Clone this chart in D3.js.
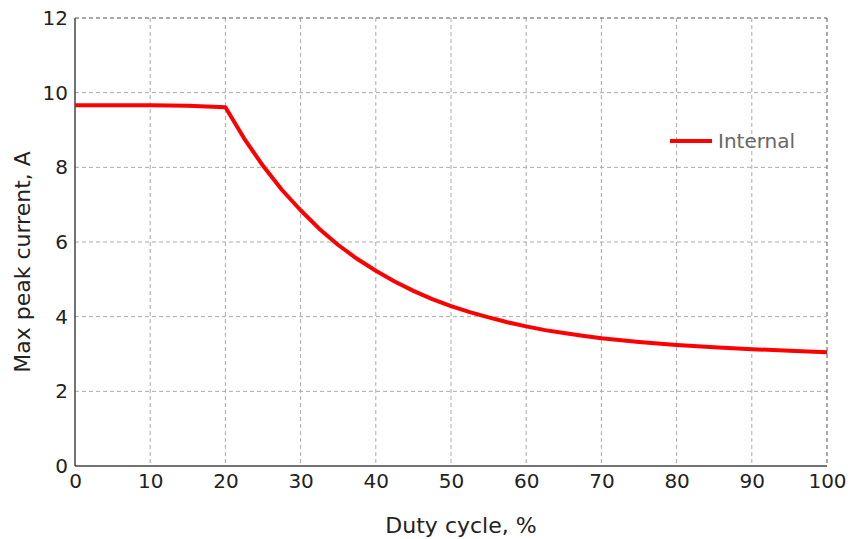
<!DOCTYPE html>
<html><head><meta charset="utf-8">
<script src="https://cdn.jsdelivr.net/npm/d3@7"></script>
<style>body{margin:0;background:#fff}</style>
</head><body>
<svg id="c" width="851" height="539"></svg>
<script>
const dutyCycle = [0, 5, 10, 15, 20, 22.5, 25, 27.5, 30, 32.5, 35, 37.5, 40, 42.5, 45, 47.5, 50, 52.5, 55, 57.5, 60, 62.5, 65, 67.5, 70, 75, 80, 85, 90, 95, 100];
const maxPeakCurrent = [9.66, 9.66, 9.66, 9.65, 9.61, 8.77, 8.04, 7.40, 6.85, 6.35, 5.92, 5.55, 5.23, 4.94, 4.69, 4.47, 4.28, 4.12, 3.98, 3.85, 3.74, 3.64, 3.56, 3.49, 3.42, 3.32, 3.24, 3.18, 3.13, 3.09, 3.05];
const xTicks = [0, 10, 20, 30, 40, 50, 60, 70, 80, 90, 100];
const yTicks = [0, 2, 4, 6, 8, 10, 12];
const seriesName = "Internal";

const svg = d3.select("#c");
const L = 75, R = 827, T = 18, B = 466;
const x = d3.scaleLinear().domain([0, 100]).range([L, R]);
const y = d3.scaleLinear().domain([0, 12]).range([B, T]);
const font = "DejaVu Sans, sans-serif";

// grid
const g = svg.append("g");
g.selectAll("line.vx").data(xTicks.filter(d => d > 0 && d < 100)).join("line")
  .attr("x1", d => x(d)).attr("x2", d => x(d)).attr("y1", T).attr("y2", B)
  .attr("stroke", "#aaa").attr("stroke-dasharray", "4,3").attr("stroke-width", 1);
g.selectAll("line.hy").data(yTicks.filter(d => d > 0 && d < 12)).join("line")
  .attr("y1", d => y(d)).attr("y2", d => y(d)).attr("x1", L).attr("x2", R)
  .attr("stroke", "#aaa").attr("stroke-dasharray", "4,3").attr("stroke-width", 1);

// frame
svg.append("line").attr("x1", L).attr("x2", R).attr("y1", T).attr("y2", T)
  .attr("stroke", "#555").attr("stroke-dasharray", "4,3");
svg.append("line").attr("x1", R).attr("x2", R).attr("y1", T).attr("y2", B)
  .attr("stroke", "#555").attr("stroke-dasharray", "4,3");
svg.append("line").attr("x1", L).attr("x2", L).attr("y1", T).attr("y2", B)
  .attr("stroke", "#444").attr("stroke-width", 1.5);
svg.append("line").attr("x1", L).attr("x2", R).attr("y1", B).attr("y2", B)
  .attr("stroke", "#444").attr("stroke-width", 1.5);

// axes labels via d3 axes
const xAxis = svg.append("g").attr("transform", `translate(0,${B})`)
  .call(d3.axisBottom(x).tickValues(xTicks).tickSize(0).tickPadding(8));
const yAxis = svg.append("g").attr("transform", `translate(${L},0)`)
  .call(d3.axisLeft(y).tickValues(yTicks).tickSize(0).tickPadding(7));
[xAxis, yAxis].forEach(a => {
  a.select(".domain").remove();
  a.selectAll("text").attr("font-family", font).attr("font-size", 20).attr("fill", "#222");
});

svg.append("text").attr("x", 461).attr("y", 533).attr("text-anchor", "middle")
  .attr("font-family", font).attr("font-size", 22).attr("fill", "#222").text("Duty cycle, %");
svg.append("text").attr("transform", `translate(30,${(T + B) / 2 + 20}) rotate(-90)`)
  .attr("text-anchor", "middle").attr("font-family", font).attr("font-size", 22).attr("fill", "#222")
  .text("Max peak current, A");

// line
const line = d3.line().x((d, i) => x(dutyCycle[i])).y(d => y(d));
svg.append("path").datum(maxPeakCurrent).attr("d", line)
  .attr("fill", "none").attr("stroke", "#ff0000").attr("stroke-width", 4).attr("stroke-linejoin", "round");

// legend
svg.append("line").attr("x1", 670).attr("x2", 712).attr("y1", 141).attr("y2", 141)
  .attr("stroke", "#ff0000").attr("stroke-width", 4);
svg.append("text").attr("x", 718).attr("y", 148).attr("font-family", font).attr("font-size", 20)
  .attr("fill", "#666").text(seriesName);
</script>
</body></html>
